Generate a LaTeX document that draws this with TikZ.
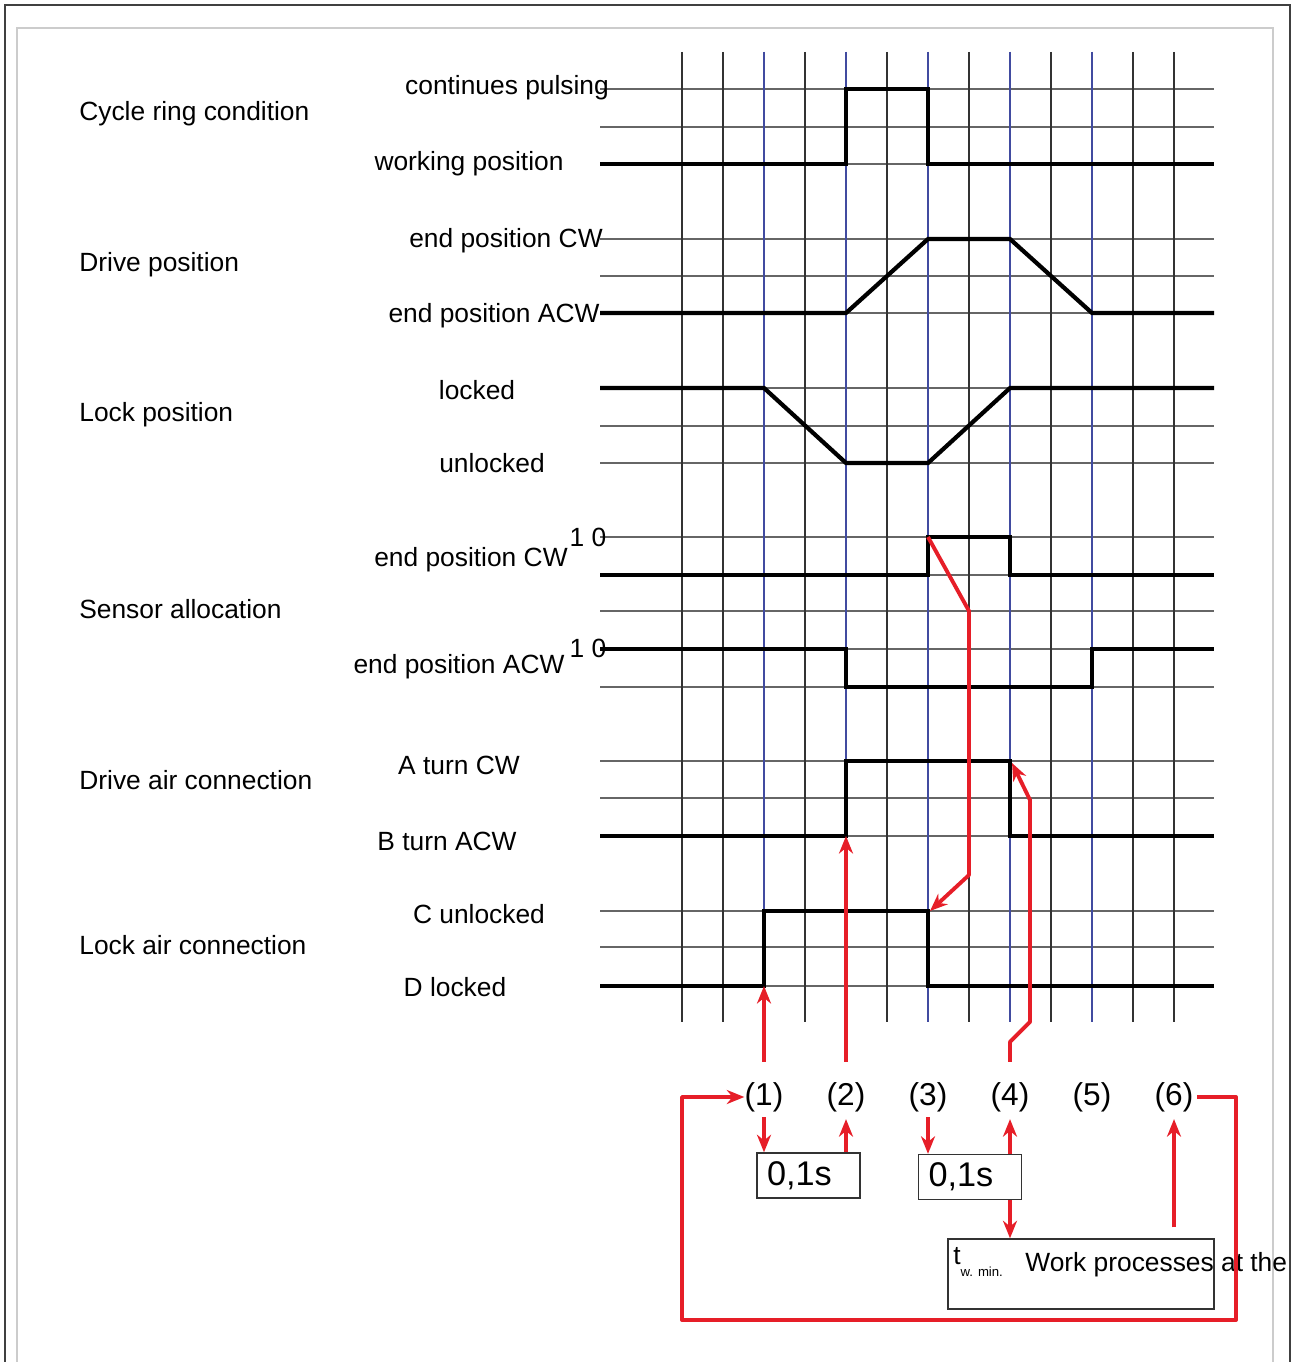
\documentclass[tikz,border=0pt]{standalone}
\usepackage{fontspec}
\setmainfont{Liberation Sans}
\usetikzlibrary{arrows.meta,positioning,calc}
\definecolor{cyclered}{RGB}{230,30,40}
\definecolor{phaseblue}{RGB}{65,75,160}
\tikzset{
  gridline/.style={line width=0.7pt, black!80},
  phaseline/.style={line width=1.3pt, phaseblue},
  levelline/.style={line width=0.7pt, black!60},
  signal/.style={line width=2.4pt, line join=miter},
  cycleline/.style={line width=2.2pt, cyclered, line join=round},
  cyclearrow/.style={cycleline, -{Stealth[length=10pt,width=8pt]}},
  rowlabel/.style={anchor=west, inner sep=0pt, font=\fontsize{15}{18}\selectfont},
  statelabel/.style={inner sep=0pt, font=\fontsize{15}{18}\selectfont},
  steplabel/.style={inner sep=0pt, font=\fontsize{18}{22}\selectfont},
  timerbox/.style={draw, line width=0.8pt, black!80, text=black, minimum height=0.9cm,
    inner xsep=0.2cm, text width=1.66cm, align=left, font=\fontsize{19.5}{23}\selectfont}
}
\begin{document}
\begin{tikzpicture}[x=0.02cm, y=-0.02cm]
  \useasboundingbox (0,0) rectangle (1297,1362);
  % frames
  \draw[line width=1.1pt, black!75] (5,1380) -- (5,5) -- (1290,5) -- (1290,1380);
  \draw[line width=0.8pt, black!20] (17,1380) -- (17,28) -- (1273,28) -- (1273,1380);

  % grid
  \foreach \y in {89,127,164,239,276,313,388,426,463,537,575,611,649,687,761,798,836,911,947,986}
    \draw[levelline] (600,\y) -- (1214,\y);
  \foreach \i in {0,...,12}
    \draw[gridline] (682+41*\i,52) -- (682+41*\i,1022);
  \foreach \i in {2,4,...,10}
    \draw[phaseline] (682+41*\i,52) -- (682+41*\i,1022);

  % row labels
  \node[rowlabel] (cycle) at (79,114) {Cycle ring condition};
  \node[rowlabel] (drive) at (79,265) {Drive position};
  \node[rowlabel] (lock) at (79,415) {Lock position};
  \node[rowlabel] (sensor) at (79,609) {Sensor allocation};
  \node[rowlabel] (driveair) at (79,780) {Drive air connection};
  \node[rowlabel] (lockair) at (79,945) {Lock air connection};

  \node[statelabel] (pulsing) at (507,88) {continues pulsing};
  \node[statelabel] (working) at (469,164) {working position};
  \node[statelabel] (cw) at (506,241) {end position CW};
  \node[statelabel] (acw) at (494,316) {end position ACW};
  \node[statelabel] (locked) at (477,390) {locked};
  \node[statelabel] (unlocked) at (492,463) {unlocked};
  \node[statelabel] (sensorcw) at (471,560) {end position CW};
  \node[statelabel] (bitscw) at (588,537) {1 0};
  \node[statelabel] (sensoracw) at (459,667) {end position ACW};
  \node[statelabel] (bitsacw) at (588,648) {1 0};
  \node[statelabel] (turna) at (459,765) {A turn CW};
  \node[statelabel] (turnb) at (447,841) {B turn ACW};
  \node[statelabel] (portc) at (479,914) {C unlocked};
  \node[statelabel] (portd) at (455,987) {D locked};

  % signals
  \draw[signal] (600,164) -- (846,164) -- (846,89) -- (928,89) -- (928,164) -- (1214,164);
  \draw[signal] (600,313) -- (846,313) -- (928,239) -- (1010,239) -- (1092,313) -- (1214,313);
  \draw[signal] (600,388) -- (764,388) -- (846,463) -- (928,463) -- (1010,388) -- (1214,388);
  \draw[signal] (600,575) -- (928,575) -- (928,537) -- (1010,537) -- (1010,575) -- (1214,575);
  \draw[signal] (600,649) -- (846,649) -- (846,687) -- (1092,687) -- (1092,649) -- (1214,649);
  \draw[signal] (600,836) -- (846,836) -- (846,761) -- (1010,761) -- (1010,836) -- (1214,836);
  \draw[signal] (600,986) -- (764,986) -- (764,911) -- (928,911) -- (928,986) -- (1214,986);

  \coordinate (lockairup) at (764,986);
  \coordinate (driveairup) at (846,836);
  \coordinate (sensorcwup) at (928,537);
  \coordinate (lockairdown) at (930,911);
  \coordinate (driveairdown) at (1012,763);

  % steps and timers
  \foreach \i in {1,...,6}
    \node[steplabel] (n\i) at (764+82*\i-82,1097) {(\i)};
  \node[timerbox] (box1) at (808.5,1175.5) {0,1s};
  \node[timerbox] (box2) at (970,1177) {0,1s};
  \node[draw, line width=0.8pt, black!80, minimum width=5.32cm, minimum height=1.4cm,
    inner sep=0pt] (box3) at (1081,1274) {};
  \node[statelabel, anchor=north west] (tw) at (953,1247)
    {t\raisebox{-7pt}{\fontsize{7.5}{9}\selectfont w. min.}};
  \node[statelabel, anchor=west] (work) at (1025,1265) {Work processes at the};

  % cycle arrows
  \draw[cyclearrow] ($(n1.north)+(0,-20)$) -- (lockairup);
  \draw[cyclearrow] ($(n2.north)+(0,-20)$) -- (driveairup);
  \draw[cyclearrow] (sensorcwup) -- (969,611) -- (969,875) -- (lockairdown);
  \draw[cyclearrow] ($(n4.north)+(0,-20)$) -- ++(0,-20) -- ++(20,-20) -- (1030,800) -- (driveairdown);

  \draw[cyclearrow, shorten <=3pt] (n1.south) -- (n1.south |- box1.north);
  \draw[cyclearrow, shorten >=4pt] (box1.north -| n2) -- (n2.south);
  \draw[cyclearrow, shorten <=3pt] (n3.south) -- (n3.south |- box2.north);
  \draw[cyclearrow, shorten >=4pt] (box2.north -| n4) -- (n4.south);
  \draw[cyclearrow] (box2.south -| n4) -- (box3.north -| n4);
  \draw[cyclearrow, shorten >=4pt] ($(box3.north -| n6)+(0,-11)$) -- (n6.south);

  \coordinate (loopright) at (1236,1096);
  \coordinate (loopleft) at (682,1320);
  \draw[cyclearrow, shorten <=2pt] (n6.east) -- (n6.east -| loopright) |- (loopleft) |- (n1.west);
\end{tikzpicture}
\end{document}
